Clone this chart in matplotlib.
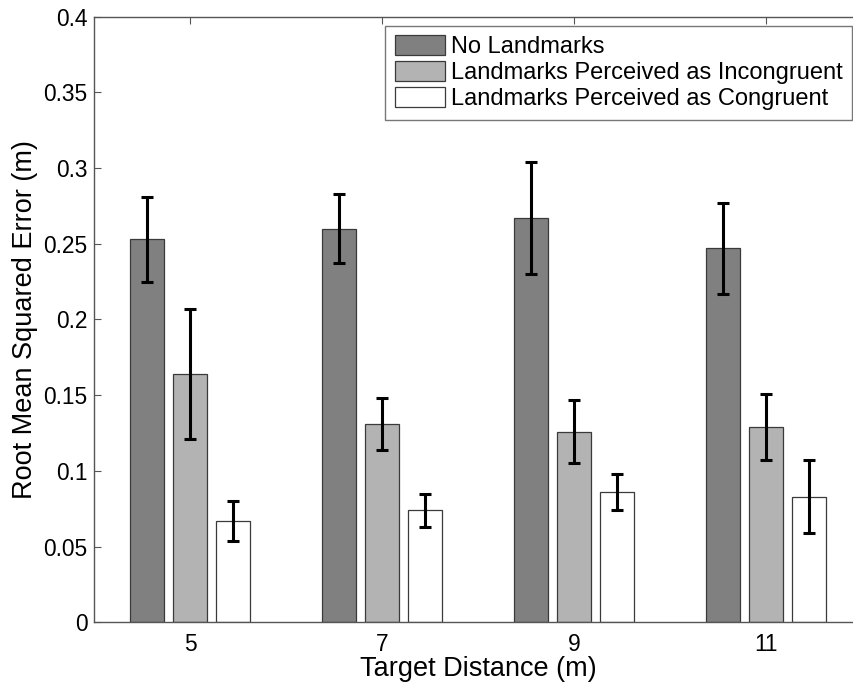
import matplotlib
matplotlib.use("Agg")
import matplotlib.pyplot as plt
import numpy as np

plt.rcParams['font.family'] = ['Liberation Sans', 'DejaVu Sans']

categories = ["5", "7", "9", "11"]
series_names = ["No Landmarks",
                "Landmarks Perceived as Incongruent",
                "Landmarks Perceived as Congruent"]
no_landmarks = [0.253, 0.260, 0.267, 0.247]
incongruent = [0.164, 0.131, 0.126, 0.129]
congruent = [0.067, 0.074, 0.086, 0.083]
err_no = [0.028, 0.023, 0.037, 0.030]
err_inc = [0.043, 0.017, 0.021, 0.022]
err_con = [0.013, 0.011, 0.012, 0.024]
yticks = [0, 0.05, 0.1, 0.15, 0.2, 0.25, 0.3, 0.35, 0.4]
ytick_labels = ["0", "0.05", "0.1", "0.15", "0.2", "0.25", "0.3", "0.35", "0.4"]

fig = plt.figure(figsize=(8.54, 6.84), dpi=100)
ax = fig.add_axes([94.5/854, (684-622.3)/684, 767.8/854, 605.6/684])

x = np.arange(1, len(categories) + 1)
offset = 0.224
width = 0.177
colors = ['#808080', '#b3b3b3', '#ffffff']
series = [no_landmarks, incongruent, congruent]
errs = [err_no, err_inc, err_con]
for i, (vals, e, c, name) in enumerate(zip(series, errs, colors, series_names)):
    xs = x + (i - 1) * offset
    ax.bar(xs, vals, width=width, color=c, edgecolor='#3a3a3a', linewidth=0.9,
           label=name, zorder=2)
    ax.errorbar(xs, vals, yerr=e, fmt='none', ecolor='black', elinewidth=2.2,
                capsize=4, capthick=2.2, zorder=3)

ax.set_xlim(0.5, 4.5)
ax.set_ylim(0, 0.4)
ax.set_xticks(x)
ax.set_xticklabels(categories)
ax.set_yticks(yticks)
ax.set_yticklabels(ytick_labels)
ax.tick_params(direction='in', length=5, width=0.8, color='#555555',
               labelsize=16.4, top=True, right=True)
ax.tick_params(axis='y', pad=5)
ax.tick_params(axis='x', pad=8)
for s in ax.spines.values():
    s.set_color('#555555')
    s.set_linewidth(1.0)

ax.set_xlabel("Target Distance (m)", fontsize=19.5, labelpad=0)
ax.set_ylabel("Root Mean Squared Error (m)", fontsize=19.5, labelpad=4)

leg = ax.legend(loc='upper right', bbox_to_anchor=(852/854, 1 - 25.7/684),
                bbox_transform=fig.transFigure, fontsize=17,
                frameon=True, fancybox=False, edgecolor='#555555',
                handlelength=2.12, handleheight=0.93, handletextpad=0.25,
                labelspacing=0.12, borderpad=0.4, borderaxespad=0)
leg.get_frame().set_linewidth(1.0)

fig.savefig("out.png", dpi=100)
